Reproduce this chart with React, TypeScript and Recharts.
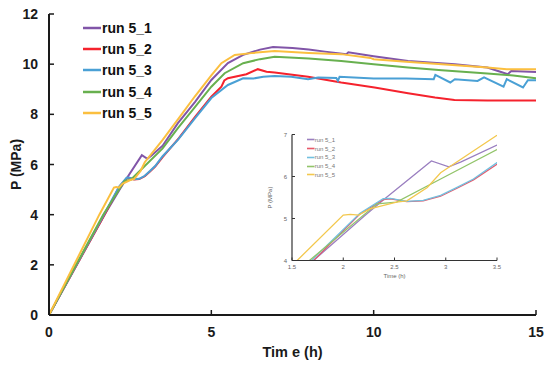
import React from 'react';
import { LineChart, Line, XAxis, YAxis } from 'recharts';

// ---- data (time h, pressure MPa) ----
const seriesNames = ['run 5_1', 'run 5_2', 'run 5_3', 'run 5_4', 'run 5_5'];

const run51: number[][] = [
  [0, 0], [1.71, 4.0], [2.2, 5.05], [2.42, 5.5], [2.86, 6.37], [3.03, 6.23], [3.15, 6.35], [3.5, 6.75],
  [3.97, 7.65], [4.5, 8.5], [5.0, 9.37], [5.51, 10.04], [5.98, 10.37], [6.5, 10.58], [6.9, 10.68], [7.5, 10.64],
  [8.0, 10.58], [8.5, 10.5], [9.16, 10.4], [9.22, 10.47], [10.0, 10.32], [11.06, 10.13], [12.5, 10.0],
  [13.5, 9.87], [13.9, 9.7], [14.13, 9.6], [14.24, 9.73], [15.0, 9.69],
];
const run52: number[][] = [
  [0, 0], [1.71, 4.0], [2.16, 5.1], [2.39, 5.45], [2.46, 5.47], [2.62, 5.4], [2.78, 5.42], [2.95, 5.53],
  [3.11, 5.72], [3.27, 5.92], [3.5, 6.29], [4.0, 7.05], [4.5, 7.9], [5.0, 8.7], [5.31, 9.1], [5.4, 9.35],
  [5.51, 9.44], [6.08, 9.6], [6.43, 9.8], [6.7, 9.7], [6.95, 9.67], [7.98, 9.5], [9.0, 9.27], [10.03, 9.07],
  [11.06, 8.84], [11.89, 8.67], [12.49, 8.57], [13.5, 8.55], [15.0, 8.55],
];
const run53: number[][] = [
  [0, 0], [1.69, 4.0], [2.16, 5.12], [2.39, 5.47], [2.46, 5.48], [2.62, 5.41], [2.78, 5.43], [2.95, 5.55],
  [3.11, 5.74], [3.27, 5.94], [3.5, 6.33], [3.97, 6.98], [4.5, 7.85], [5.0, 8.65], [5.51, 9.17], [5.98, 9.44],
  [6.3, 9.43], [6.6, 9.5], [6.95, 9.53], [7.46, 9.5], [7.98, 9.4], [8.29, 9.47], [8.85, 9.45], [8.9, 9.33],
  [8.95, 9.5], [10.0, 9.43], [11.0, 9.43], [11.85, 9.4], [11.9, 9.57], [12.36, 9.27], [12.5, 9.4],
  [13.2, 9.33], [13.4, 9.47], [14.0, 9.1], [14.1, 9.4], [14.6, 9.07], [14.75, 9.36], [15.0, 9.36],
];
const run54: number[][] = [
  [0, 0], [1.67, 4.0], [2.33, 5.35], [2.52, 5.39], [2.95, 5.94], [3.5, 6.64], [3.97, 7.45], [4.5, 8.3],
  [5.0, 9.1], [5.41, 9.64], [5.98, 10.04], [6.5, 10.2], [6.95, 10.3], [8.0, 10.23], [9.0, 10.13],
  [10.0, 10.0], [11.06, 9.87], [12.1, 9.76], [13.5, 9.63], [14.3, 9.55], [15.0, 9.44],
];
const run55: number[][] = [
  [0, 0], [1.55, 4.0], [2.0, 5.08], [2.07, 5.1], [2.15, 5.08], [2.26, 5.23], [2.52, 5.39], [2.62, 5.42],
  [2.82, 5.74], [2.95, 6.09], [3.5, 6.98], [4.0, 7.85], [4.49, 8.71], [5.0, 9.55], [5.31, 10.04], [5.72, 10.37],
  [6.3, 10.45], [6.95, 10.52], [8.0, 10.45], [9.0, 10.4], [9.9, 10.25], [10.0, 10.2], [11.0, 10.1],
  [12.1, 10.0], [13.5, 9.87], [14.1, 9.8], [15.0, 9.8],
];

const xTicksMain = [0, 5, 10, 15];
const yTicksMain = [0, 2, 4, 6, 8, 10, 12];
const xTicksInset = [1.5, 2, 2.5, 3, 3.5];
const yTicksInset = [4, 4.5, 5, 5.5, 6, 6.5, 7];

const mainColors = ['#8155a8', '#f5222d', '#4aa0d5', '#68b04f', '#fbbf3f'];
const insetColors = ['#9a7fc0', '#e8586a', '#72c0df', '#92c46a', '#f3c84e'];

const allRuns = [run51, run52, run53, run54, run55];
const toPts = (arr: number[][]) => arr.map(([t, p]) => ({ t, p }));
const series = allRuns.map((r, i) => ({ name: seriesNames[i], data: toPts(r) }));

const FONT = 'Arial, "Liberation Sans", sans-serif';
const AXIS = '#1a1a1a';

const MainXTick = (props: any) => {
  const { x, y, payload } = props;
  return (
    <g>
      <line x1={x} x2={x} y1={y} y2={y - 5} stroke={AXIS} strokeWidth={1.5} />
      <text x={x} y={y + 22} textAnchor="middle" fontSize={14} fontWeight="bold" fontFamily={FONT} fill={AXIS}>
        {payload.value}
      </text>
    </g>
  );
};
const MainYTick = (props: any) => {
  const { x, y, payload } = props;
  return (
    <g>
      <line x1={x} x2={x + 5} y1={y} y2={y} stroke={AXIS} strokeWidth={1.5} />
      <text x={x - 11} y={y + 5} textAnchor="end" fontSize={14} fontWeight="bold" fontFamily={FONT} fill={AXIS}>
        {payload.value}
      </text>
    </g>
  );
};
const InsetXTick = (props: any) => {
  const { x, y, payload } = props;
  return (
    <g>
      <line x1={x} x2={x} y1={y} y2={y - 3} stroke="#333" strokeWidth={1} />
      <text x={x} y={y + 8.5} textAnchor="middle" fontSize={6} fontFamily={FONT} fill="#666">
        {payload.value}
      </text>
    </g>
  );
};
const InsetYTick = (props: any) => {
  const { x, y, payload } = props;
  return (
    <g>
      <line x1={x} x2={x + 3} y1={y} y2={y} stroke="#333" strokeWidth={1} />
      <text x={x - 5} y={y + 2} textAnchor="end" fontSize={6} fontFamily={FONT} fill="#666">
        {payload.value}
      </text>
    </g>
  );
};

const MainLegend = () => (
  <div style={{ position: 'absolute', left: 83, top: 17.4, fontFamily: FONT }}>
    {seriesNames.map((n, i) => (
      <div key={n} style={{ display: 'flex', alignItems: 'center', height: 21.2 }}>
        <svg width={19} height={4} style={{ display: 'block' }}>
          <line x1={0} x2={18} y1={2} y2={2} stroke={mainColors[i]} strokeWidth={2.5} />
        </svg>
        <span style={{ fontSize: 14, fontWeight: 'bold', color: '#111', lineHeight: '14px' }}>{n}</span>
      </div>
    ))}
  </div>
);
const InsetLegend = () => (
  <div style={{ position: 'absolute', left: 306.7, top: 135.6, fontFamily: FONT }}>
    {seriesNames.map((n, i) => (
      <div key={n} style={{ display: 'flex', alignItems: 'center', height: 8.75 }}>
        <svg width={8} height={3} style={{ display: 'block' }}>
          <line x1={0} x2={7.5} y1={1.5} y2={1.5} stroke={insetColors[i]} strokeWidth={1.6} />
        </svg>
        <span style={{ fontSize: 6, color: '#777', lineHeight: '6px' }}>{n}</span>
      </div>
    ))}
  </div>
);

export default function App() {
  return (
    <div style={{ position: 'absolute', left: 0, top: 0, width: 550, height: 365, background: '#fff' }}>
      <LineChart width={550} height={365} margin={{ top: 14, right: 14, bottom: 20, left: 9 }}>
        <XAxis
          dataKey="t"
          type="number"
          domain={[0, 15]}
          ticks={xTicksMain}
          allowDataOverflow
          height={30}
          tickSize={0}
          tickMargin={0}
          tickLine={false}
          axisLine={{ stroke: AXIS, strokeWidth: 2 }}
          tick={<MainXTick />}
          label={{
            content: (p: any) => {
              const vb = p.viewBox || { x: 49, y: 315, width: 487 };
              return (
                <text x={vb.x + vb.width / 2} y={vb.y + 42} textAnchor="middle" fontSize={14.5} fontWeight="bold" fontFamily={FONT} fill={AXIS}>
                  Tim e (h)
                </text>
              );
            },
          }}
        />
        <YAxis
          dataKey="p"
          type="number"
          domain={[0, 12]}
          ticks={yTicksMain}
          allowDataOverflow
          width={40}
          tickSize={0}
          tickMargin={0}
          tickLine={false}
          axisLine={{ stroke: AXIS, strokeWidth: 2 }}
          tick={<MainYTick />}
          label={{
            content: (p: any) => {
              const vb = p.viewBox || { x: 9, y: 14, height: 301 };
              const cx = vb.x + 7;
              const cy = vb.y + vb.height / 2;
              return (
                <text x={cx} y={cy} transform={`rotate(-90 ${cx} ${cy})`} textAnchor="middle" dominantBaseline="central" fontSize={14} fontWeight="bold" fontFamily={FONT} fill={AXIS}>
                  P (MPa)
                </text>
              );
            },
          }}
        />
        {series.map((s, i) => (
          <Line
            key={s.name}
            data={s.data}
            dataKey="p"
            name={s.name}
            type="linear"
            stroke={mainColors[i]}
            strokeWidth={2}
            dot={false}
            activeDot={false}
            isAnimationActive={false}
          />
        ))}
      </LineChart>
      <MainLegend />

      <div style={{ position: 'absolute', left: 250, top: 125, width: 260, height: 160 }}>
        <LineChart width={260} height={160} margin={{ top: 9.5, right: 13, bottom: 4.5, left: 2 }}>
          <XAxis
            dataKey="t"
            type="number"
            domain={[1.5, 3.5]}
            ticks={xTicksInset}
            allowDataOverflow
            height={20}
            tickSize={0}
            tickMargin={0}
            tickLine={false}
            axisLine={{ stroke: '#333', strokeWidth: 1.2 }}
            tick={<InsetXTick />}
            label={{
              content: (p: any) => {
                const vb = p.viewBox || { x: 42, y: 135.5, width: 205 };
                return (
                  <text x={vb.x + vb.width / 2} y={vb.y + 17.5} textAnchor="middle" fontSize={6} fontFamily={FONT} fill="#666">
                    Time (h)
                  </text>
                );
              },
            }}
          />
          <YAxis
            dataKey="p"
            type="number"
            domain={[4, 7]}
            ticks={yTicksInset}
            allowDataOverflow
            width={40}
            tickSize={0}
            tickMargin={0}
            tickLine={false}
            axisLine={{ stroke: '#333', strokeWidth: 1.2 }}
            tick={<InsetYTick />}
            label={{
              content: (p: any) => {
                const vb = p.viewBox || { x: 2, y: 9.5, height: 126 };
                const cx = vb.x + 18;
                const cy = vb.y + vb.height / 2;
                return (
                  <text x={cx} y={cy} transform={`rotate(-90 ${cx} ${cy})`} textAnchor="middle" dominantBaseline="central" fontSize={6} fontFamily={FONT} fill="#666">
                    P (MPa)
                  </text>
                );
              },
            }}
          />
          {series.map((s, i) => (
            <Line
              key={s.name}
              data={s.data}
              dataKey="p"
              name={s.name}
              type="linear"
              stroke={insetColors[i]}
              strokeWidth={1.3}
              dot={false}
              activeDot={false}
              isAnimationActive={false}
            />
          ))}
        </LineChart>
      </div>
      <InsetLegend />
    </div>
  );
}
